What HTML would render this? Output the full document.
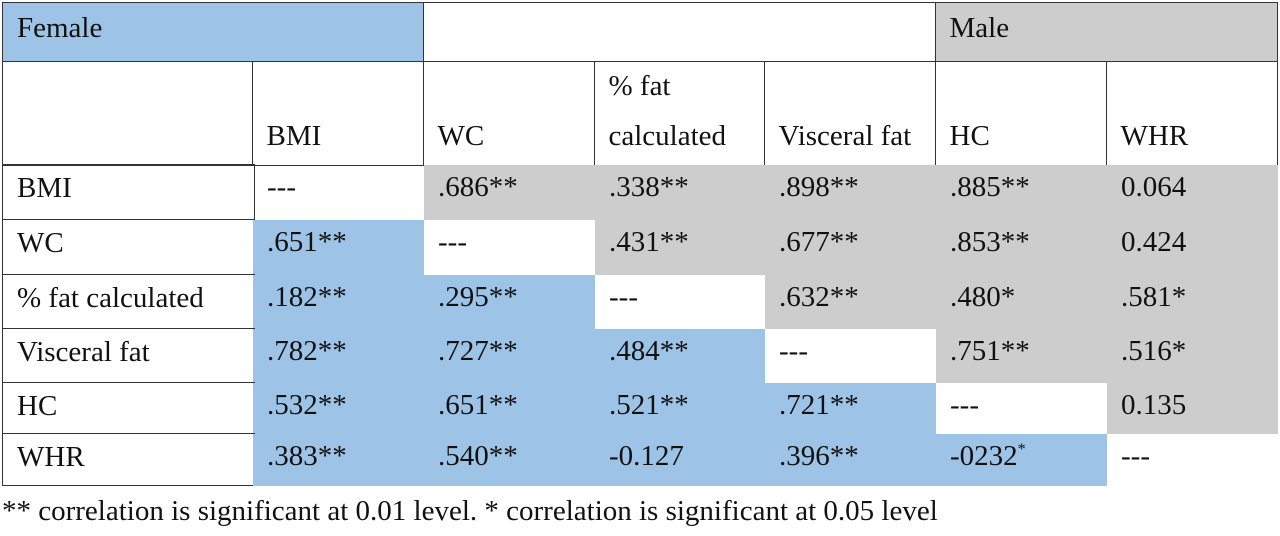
<!DOCTYPE html>
<html><head><meta charset="utf-8"><style>
body{margin:0;width:1280px;height:533px;background:#fff;overflow:hidden;position:relative;font-family:"Liberation Serif",serif;}
.c{position:absolute;box-sizing:border-box;font-size:29px;line-height:50px;color:#111;padding-left:14px;white-space:nowrap;}
.bd{border:1.5px solid #333;}
.blue{background:#9dc3e6;}
.gray{background:#cdcdcd;}
sup{font-size:16px;line-height:0;vertical-align:11px;}
</style></head><body>
<div id="tbl"></div>
<div class="c" style="left:2px;top:486px;padding-left:0">** correlation is significant at 0.01 level. * correlation is significant at 0.05 level</div>
<script>
const colX=[2,253,424,595,765,936,1107,1278];
const rowY=[165,220,275,329,383,434,486];
const labels=["BMI","WC","% fat calculated","Visceral fat","HC","WHR"];
const values=[
["---",".686**",".338**",".898**",".885**","0.064"],
[".651**","---",".431**",".677**",".853**","0.424"],
[".182**",".295**","---",".632**",".480*",".581*"],
[".782**",".727**",".484**","---",".751**",".516*"],
[".532**",".651**",".521**",".721**","---","0.135"],
[".383**",".540**","-0.127",".396**","-0232<sup>*</sup>","---"]];
const T=document.getElementById('tbl');
function cell(x,y,w,h,cls,html){const d=document.createElement('div');d.className='c '+cls;d.style.left=x+'px';d.style.top=y+'px';d.style.width=w+'px';d.style.height=h+'px';d.innerHTML=html;T.appendChild(d);return d;}
let e;
e=cell(2,2,colX[2]-2,60,'bd blue','Female');


e=cell(colX[2]-1.5,2,colX[5]-colX[2]+1.5,60,'bd','');


e=cell(colX[5]-1.5,2,colX[7]-colX[5]+1.5,60,'bd gray','Male');


const hdr=["","BMI","WC","% fat<br>calculated","Visceral fat","HC","WHR"];
for(let j=0;j<7;j++){
 const x=j==0?2:colX[j]-1.5;
 e=cell(x,60.5,colX[j+1]-x,rowY[0]-60,'bd','');
 e.style.display='flex';e.style.alignItems='flex-end';e.style.paddingBottom='4px';
 e.innerHTML='<div>'+hdr[j]+'</div>';
 
 
}
for(let i=0;i<6;i++){
 const y=rowY[i],h=rowY[i+1]-rowY[i];
 e=cell(2,y-1.5,colX[1]-2+1.5,h+1.5,'bd',labels[i]);
 e.style.lineHeight='46px';
 
 
 for(let j=0;j<6;j++){
  const cls=j==i?'':(j>i?'gray':'blue');
  e=cell(colX[j+1],y,colX[j+2]-colX[j+1],h,cls,values[i][j]);
  e.style.lineHeight='44px';
  
  
 }
}
</script>
</body></html>
